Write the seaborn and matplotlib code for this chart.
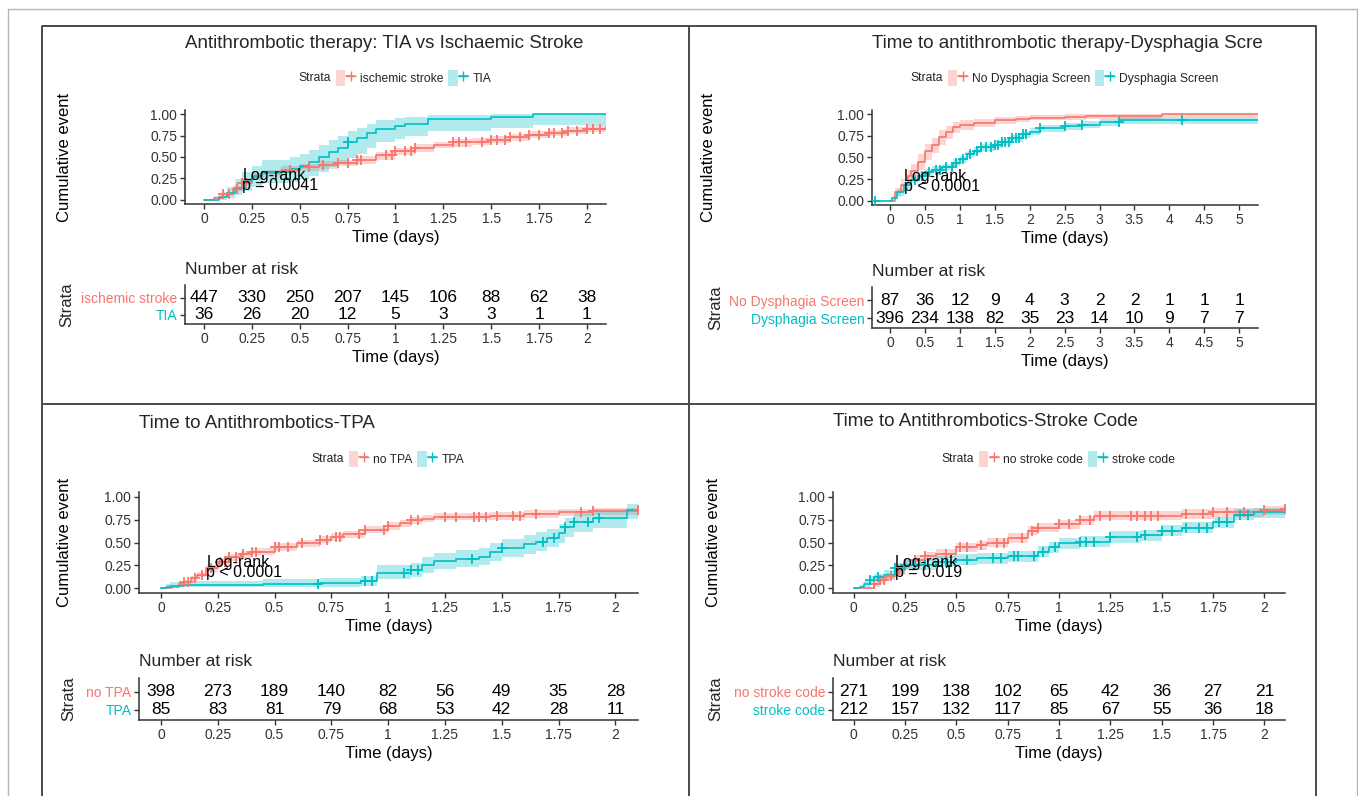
import numpy as np
import pandas as pd
import matplotlib
matplotlib.use("Agg")
import matplotlib.pyplot as plt
import seaborn as sns
from matplotlib.lines import Line2D
from matplotlib.patches import Patch
from matplotlib.legend_handler import HandlerTuple

W, H = 1358, 796
RED = "#F8766D"
TEAL = "#00BFC4"

# ---- panel 1: TIA vs ischaemic stroke ----
isch_t = [0, 0.05, 0.1, 0.15, 0.2, 0.25, 0.3, 0.4, 0.5, 0.6, 0.7, 0.8, 0.9, 1.0, 1.1, 1.2, 1.3, 1.4, 1.5, 1.6, 1.7, 1.8, 1.9, 2.0, 2.1]
isch_y = [0, 0.02, 0.07, 0.13, 0.2, 0.27, 0.31, 0.35, 0.38, 0.41, 0.43, 0.47, 0.52, 0.57, 0.61, 0.64, 0.67, 0.68, 0.70, 0.73, 0.76, 0.78, 0.81, 0.83, 0.85]
isch_lo = [0, 0.01, 0.05, 0.10, 0.16, 0.23, 0.27, 0.31, 0.34, 0.36, 0.39, 0.42, 0.47, 0.52, 0.56, 0.60, 0.62, 0.64, 0.66, 0.69, 0.72, 0.74, 0.77, 0.79, 0.81]
isch_hi = [0, 0.04, 0.09, 0.16, 0.24, 0.31, 0.35, 0.39, 0.42, 0.45, 0.47, 0.51, 0.56, 0.61, 0.65, 0.68, 0.71, 0.72, 0.74, 0.77, 0.80, 0.82, 0.85, 0.87, 0.89]
isch_cens = [0.1, 0.13, 0.17, 0.2, 0.22, 0.45, 0.55, 0.62, 0.7, 0.75, 0.8, 0.82, 0.95, 0.98, 1.0, 1.05, 1.08, 1.1,
             1.3, 1.33, 1.37, 1.45, 1.5, 1.53, 1.57, 1.6, 1.65, 1.7, 1.75, 1.8, 1.83, 1.87, 1.9, 1.95, 2.0, 2.03, 2.07]
tia_t = [0, 0.08, 0.12, 0.16, 0.2, 0.25, 0.3, 0.45, 0.5, 0.55, 0.6, 0.65, 0.7, 0.75, 0.8, 0.85, 0.9, 1.0, 1.05, 1.17, 1.5, 1.72, 2.1]
tia_y = [0, 0.03, 0.08, 0.14, 0.22, 0.28, 0.33, 0.36, 0.39, 0.44, 0.50, 0.56, 0.61, 0.67, 0.72, 0.78, 0.83, 0.86, 0.89, 0.94, 0.97, 1.0, 1.0]
tia_lo = [0, 0.0, 0.02, 0.05, 0.1, 0.15, 0.19, 0.21, 0.24, 0.28, 0.33, 0.38, 0.43, 0.49, 0.54, 0.61, 0.67, 0.71, 0.75, 0.80, 0.84, 0.88, 0.88]
tia_hi = [0, 0.08, 0.15, 0.24, 0.33, 0.40, 0.46, 0.50, 0.53, 0.58, 0.64, 0.70, 0.75, 0.80, 0.84, 0.89, 0.93, 0.96, 0.97, 0.99, 1.0, 1.0, 1.0]
tia_cens = [0.75]

# ---- panel 2: dysphagia screen ----
nodys_t = [0, 0.07, 0.15, 0.25, 0.3, 0.4, 0.5, 0.6, 0.7, 0.8, 0.9, 1.0, 1.2, 1.5, 1.8, 2.0, 2.5, 2.8, 3.9, 5.27]
nodys_y = [0, 0.1, 0.18, 0.28, 0.34, 0.45, 0.57, 0.64, 0.74, 0.80, 0.85, 0.88, 0.90, 0.93, 0.95, 0.96, 0.97, 0.98, 1.0, 1.0]
nodys_lo = [0, 0.05, 0.11, 0.2, 0.25, 0.36, 0.47, 0.55, 0.65, 0.72, 0.78, 0.82, 0.85, 0.89, 0.91, 0.93, 0.94, 0.95, 0.97, 0.97]
nodys_hi = [0, 0.15, 0.25, 0.36, 0.43, 0.54, 0.66, 0.73, 0.82, 0.87, 0.91, 0.93, 0.95, 0.97, 0.98, 0.99, 1.0, 1.0, 1.0, 1.0]
nodys_cens = []
dys_t = [-0.21, 0.03, 0.1, 0.2, 0.3, 0.4, 0.5, 0.6, 0.75, 0.9, 1.0, 1.1, 1.2, 1.3, 1.5, 1.6, 1.75, 1.9, 2.0, 2.15, 2.5, 2.75, 3.0, 3.3, 5.27]
dys_y = [0, 0.03, 0.1, 0.18, 0.24, 0.29, 0.33, 0.36, 0.39, 0.44, 0.48, 0.54, 0.58, 0.62, 0.65, 0.68, 0.72, 0.77, 0.80, 0.84, 0.86, 0.88, 0.91, 0.93, 0.93]
dys_lo = [0, 0.01, 0.06, 0.14, 0.2, 0.25, 0.29, 0.32, 0.35, 0.40, 0.44, 0.50, 0.54, 0.58, 0.61, 0.64, 0.68, 0.73, 0.76, 0.80, 0.82, 0.84, 0.87, 0.89, 0.89]
dys_hi = [0, 0.05, 0.14, 0.22, 0.28, 0.33, 0.37, 0.40, 0.43, 0.48, 0.52, 0.58, 0.62, 0.66, 0.69, 0.72, 0.76, 0.81, 0.84, 0.88, 0.90, 0.92, 0.95, 0.97, 0.97]
dys_cens = [-0.21, 0.35, 0.45, 0.55, 0.65, 0.72, 0.8, 0.88, 0.95, 1.05, 1.15, 1.25, 1.3, 1.38, 1.45, 1.5, 1.55, 1.6,
            1.65, 1.7, 1.75, 1.8, 1.85, 1.9, 1.95, 2.15, 2.5, 2.75, 3.28, 4.18]

# ---- panel 3: TPA ----
notpa_t = [0, 0.05, 0.08, 0.1, 0.13, 0.16, 0.2, 0.25, 0.3, 0.35, 0.4, 0.5, 0.6, 0.7, 0.75, 0.8, 0.9, 1.0, 1.05, 1.1, 1.15, 1.2, 1.45, 1.6, 1.75, 1.9, 2.1]
notpa_y = [0, 0.02, 0.05, 0.07, 0.11, 0.15, 0.22, 0.29, 0.34, 0.37, 0.40, 0.45, 0.49, 0.53, 0.56, 0.59, 0.64, 0.68, 0.71, 0.74, 0.76, 0.78, 0.79, 0.81, 0.83, 0.84, 0.85]
notpa_lo = [0, 0.01, 0.03, 0.05, 0.08, 0.12, 0.18, 0.25, 0.3, 0.33, 0.36, 0.41, 0.45, 0.49, 0.52, 0.55, 0.6, 0.64, 0.67, 0.70, 0.72, 0.74, 0.75, 0.77, 0.79, 0.80, 0.81]
notpa_hi = [0, 0.03, 0.07, 0.09, 0.14, 0.18, 0.26, 0.33, 0.38, 0.41, 0.44, 0.49, 0.53, 0.57, 0.60, 0.63, 0.68, 0.72, 0.75, 0.78, 0.80, 0.82, 0.83, 0.85, 0.87, 0.88, 0.89]
notpa_cens = [0.1, 0.12, 0.15, 0.18, 0.22, 0.26, 0.28, 0.3, 0.33, 0.36, 0.4, 0.42, 0.5, 0.52, 0.56, 0.62, 0.7, 0.73, 0.77,
              0.79, 0.87, 0.9, 0.98, 1.0, 1.1, 1.13, 1.25, 1.3, 1.38, 1.4, 1.43, 1.48, 1.55, 1.58, 1.65, 1.85, 1.9, 2.1]
tpa_t = [0, 0.02, 0.04, 0.1, 0.45, 0.7, 0.88, 0.95, 1.1, 1.15, 1.2, 1.3, 1.4, 1.45, 1.5, 1.6, 1.65, 1.7, 1.75, 1.78, 1.82, 1.9, 2.05, 2.1]
tpa_y = [0, 0.02, 0.03, 0.04, 0.05, 0.06, 0.08, 0.17, 0.20, 0.25, 0.30, 0.32, 0.34, 0.40, 0.44, 0.48, 0.51, 0.55, 0.60, 0.67, 0.72, 0.77, 0.85, 0.85]
tpa_lo = [0, 0.0, 0.01, 0.01, 0.01, 0.02, 0.03, 0.1, 0.12, 0.17, 0.21, 0.23, 0.25, 0.30, 0.34, 0.38, 0.41, 0.45, 0.50, 0.56, 0.61, 0.66, 0.76, 0.76]
tpa_hi = [0, 0.05, 0.07, 0.08, 0.10, 0.11, 0.14, 0.25, 0.28, 0.34, 0.39, 0.42, 0.44, 0.50, 0.54, 0.58, 0.61, 0.65, 0.70, 0.77, 0.82, 0.86, 0.92, 0.92]
tpa_cens = [0.69, 0.9, 0.93, 1.07, 1.1, 1.13, 1.37, 1.5, 1.68, 1.73, 1.78, 1.82, 1.88, 1.93]

# ---- panel 4: stroke code ----
nosc_t = [0, 0.1, 0.13, 0.16, 0.2, 0.25, 0.3, 0.35, 0.4, 0.5, 0.6, 0.65, 0.75, 0.85, 0.9, 1.0, 1.1, 1.17, 1.5, 1.6, 1.75, 2.0, 2.1]
nosc_y = [0, 0.05, 0.09, 0.13, 0.2, 0.26, 0.31, 0.35, 0.38, 0.45, 0.47, 0.50, 0.55, 0.63, 0.66, 0.70, 0.74, 0.79, 0.79, 0.81, 0.83, 0.85, 0.86]
nosc_lo = [0, 0.02, 0.05, 0.09, 0.15, 0.21, 0.26, 0.3, 0.33, 0.40, 0.42, 0.45, 0.50, 0.58, 0.61, 0.65, 0.69, 0.74, 0.74, 0.76, 0.78, 0.80, 0.81]
nosc_hi = [0, 0.08, 0.13, 0.17, 0.25, 0.31, 0.36, 0.40, 0.43, 0.50, 0.52, 0.55, 0.60, 0.68, 0.71, 0.75, 0.79, 0.84, 0.84, 0.86, 0.88, 0.90, 0.91]
nosc_cens = [0.1, 0.13, 0.15, 0.18, 0.22, 0.25, 0.3, 0.35, 0.45, 0.52, 0.55, 0.62, 0.7, 0.73, 0.82, 0.87, 0.9, 1.0, 1.05,
             1.1, 1.15, 1.2, 1.25, 1.35, 1.38, 1.42, 1.45, 1.48, 1.62, 1.7, 1.75, 1.82, 1.9, 2.0, 2.1]
sc_t = [0, 0.03, 0.05, 0.08, 0.1, 0.15, 0.2, 0.25, 0.4, 0.5, 0.6, 0.75, 0.9, 0.95, 1.0, 1.1, 1.25, 1.4, 1.5, 1.6, 1.75, 1.85, 1.95, 2.1]
sc_y = [0, 0.02, 0.05, 0.09, 0.12, 0.15, 0.22, 0.26, 0.29, 0.31, 0.33, 0.35, 0.40, 0.45, 0.49, 0.51, 0.56, 0.58, 0.63, 0.66, 0.72, 0.80, 0.83, 0.86]
sc_lo = [0, 0.0, 0.02, 0.05, 0.08, 0.10, 0.16, 0.2, 0.23, 0.25, 0.27, 0.29, 0.34, 0.39, 0.43, 0.45, 0.50, 0.52, 0.57, 0.60, 0.66, 0.74, 0.77, 0.81]
sc_hi = [0, 0.04, 0.08, 0.13, 0.16, 0.2, 0.28, 0.32, 0.35, 0.37, 0.39, 0.41, 0.46, 0.51, 0.55, 0.57, 0.62, 0.64, 0.69, 0.72, 0.78, 0.86, 0.88, 0.90]
sc_cens = [0.08, 0.12, 0.2, 0.25, 0.3, 0.35, 0.45, 0.55, 0.68, 0.72, 0.78, 0.8, 0.88, 0.92, 0.98, 1.1, 1.13, 1.17, 1.25,
           1.38, 1.42, 1.5, 1.55, 1.62, 1.68, 1.72, 1.78, 1.82, 1.88, 1.92]

# ---- number at risk ----
risk_times_2d = [0, 0.25, 0.5, 0.75, 1, 1.25, 1.5, 1.75, 2]
risk_labels_2d = ["0", "0.25", "0.5", "0.75", "1", "1.25", "1.5", "1.75", "2"]
risk_times_5d = [0, 0.5, 1, 1.5, 2, 2.5, 3, 3.5, 4, 4.5, 5]
risk_labels_5d = ["0", "0.5", "1", "1.5", "2", "2.5", "3", "3.5", "4", "4.5", "5"]
risk_isch = [447, 330, 250, 207, 145, 106, 88, 62, 38]
risk_tia = [36, 26, 20, 12, 5, 3, 3, 1, 1]
risk_nodys = [87, 36, 12, 9, 4, 3, 2, 2, 1, 1, 1]
risk_dys = [396, 234, 138, 82, 35, 23, 14, 10, 9, 7, 7]
risk_notpa = [398, 273, 189, 140, 82, 56, 49, 35, 28]
risk_tpa = [85, 83, 81, 79, 68, 53, 42, 28, 11]
risk_nosc = [271, 199, 138, 102, 65, 42, 36, 27, 21]
risk_sc = [212, 157, 132, 117, 85, 67, 55, 36, 18]

sns.set_theme(style="ticks")
plt.rcParams["font.family"] = ["Liberation Sans", "DejaVu Sans"]

fig = plt.figure(figsize=(W / 100, H / 100), dpi=100)


def px_axes(x0, y0, x1, y1):
    return fig.add_axes([x0 / W, 1 - y1 / H, (x1 - x0) / W, (y1 - y0) / H])


def fig_line(xs, ys, color, lw):
    fig.add_artist(Line2D([x / W for x in xs], [1 - y / H for y in ys],
                          transform=fig.transFigure, color=color, lw=lw))


def style_axis(ax):
    sns.despine(ax=ax)
    for s in ("left", "bottom"):
        ax.spines[s].set_color("#333333")
        ax.spines[s].set_linewidth(1.1)
    ax.tick_params(length=3.5, width=1, color="#333333", labelsize=10,
                   labelcolor="#333333", pad=2)


def draw_group(ax, t, y, lo, hi, cens, color):
    ax.fill_between(t, lo, hi, step="post", color=color, alpha=0.3, linewidth=0)
    df = pd.DataFrame({"t": t, "y": y})
    sns.lineplot(data=df, x="t", y="y", ax=ax, color=color, estimator=None,
                 sort=False, drawstyle="steps-post", linewidth=1.2)
    if cens:
        idx = np.searchsorted(t, cens, side="right") - 1
        sns.scatterplot(x=cens, y=np.asarray(y)[idx], ax=ax, marker="+",
                        color=color, s=55, linewidth=1.3, zorder=3)


panels = [
    dict(title="Antithrombotic therapy: TIA vs Ischaemic Stroke", names=["ischemic stroke", "TIA"],
         groups=[(isch_t, isch_y, isch_lo, isch_hi, isch_cens), (tia_t, tia_y, tia_lo, tia_hi, tia_cens)],
         risk=[risk_isch, risk_tia], rt=risk_times_2d, rl=risk_labels_2d, xlim=(-0.1, 2.1),
         pval="p = 0.0041", plot=(185, 110, 606, 204), table=(185, 285, 606, 324),
         title_y=43, leg_y=78, nar_y=269, ylab_x=72, strata_x=67),
    dict(title="Time to antithrombotic therapy-Dysphagia Scre", names=["No Dysphagia Screen", "Dysphagia Screen"],
         groups=[(nodys_t, nodys_y, nodys_lo, nodys_hi, nodys_cens), (dys_t, dys_y, dys_lo, dys_hi, dys_cens)],
         risk=[risk_nodys, risk_dys], rt=risk_times_5d, rl=risk_labels_5d, xlim=(-0.26, 5.27),
         pval="p < 0.0001", plot=(872, 110, 1258, 205), table=(872, 287, 1258, 328),
         title_y=43, leg_y=78, nar_y=271, ylab_x=716, strata_x=716),
    dict(title="Time to Antithrombotics-TPA", names=["no TPA", "TPA"],
         groups=[(notpa_t, notpa_y, notpa_lo, notpa_hi, notpa_cens), (tpa_t, tpa_y, tpa_lo, tpa_hi, tpa_cens)],
         risk=[risk_notpa, risk_tpa], rt=risk_times_2d, rl=risk_labels_2d, xlim=(-0.097, 2.1),
         pval="p < 0.0001", plot=(139, 492, 638, 593), table=(139, 678, 638, 720),
         title_y=423, leg_y=459, nar_y=661, ylab_x=72, strata_x=69),
    dict(title="Time to Antithrombotics-Stroke Code", names=["no stroke code", "stroke code"],
         groups=[(nosc_t, nosc_y, nosc_lo, nosc_hi, nosc_cens), (sc_t, sc_y, sc_lo, sc_hi, sc_cens)],
         risk=[risk_nosc, risk_sc], rt=risk_times_2d, rl=risk_labels_2d, xlim=(-0.1, 2.1),
         pval="p = 0.019", plot=(833, 492, 1285, 593), table=(833, 678, 1285, 720),
         title_y=422, leg_y=459, nar_y=661, ylab_x=721, strata_x=716),
]

colors = [RED, TEAL]
legends = []
for p in panels:
    x0, y0, x1, y1 = p["plot"]
    ax = px_axes(x0, y0, x1, y1)
    for g, c in zip(p["groups"], colors):
        draw_group(ax, *g, c)
    ax.set_xlim(*p["xlim"])
    ax.set_ylim(-0.05, 1.05)
    ax.set_yticks([0, 0.25, 0.5, 0.75, 1.0])
    ax.set_yticklabels(["0.00", "0.25", "0.50", "0.75", "1.00"])
    ax.set_xticks(p["rt"])
    ax.set_xticklabels(p["rl"])
    style_axis(ax)
    ax.set_xlabel("Time (days)", fontsize=12, color="black", labelpad=3)
    ax.set_ylabel("Cumulative event", fontsize=12, color="black")
    ax.yaxis.set_label_coords((p["ylab_x"] - x0) / (x1 - x0), 0.5)
    ax.text(0.2, 0.28, "Log-rank", fontsize=11.5, va="center", ha="left", color="black")
    ax.text(0.2, 0.17, p["pval"], fontsize=11.5, va="center", ha="left", color="black")
    fig.text(x0 / W, 1 - p["title_y"] / H, p["title"], fontsize=13.5, va="center", ha="left")

    # legend: "Strata" + two keys, centred over the plot
    handles = [(Patch(facecolor=c, alpha=0.3, edgecolor="none"),
                Line2D([], [], color=c, marker="+", markersize=7, lw=1.2)) for c in colors]
    leg = fig.legend(handles, p["names"], loc="center", ncol=2, frameon=False, fontsize=8.7,
                     bbox_to_anchor=((x0 + x1) / 2 / W, 1 - p["leg_y"] / H),
                     handlelength=1.6, handleheight=1.6, handletextpad=0.4, columnspacing=0.4,
                     borderpad=0.1, handler_map={tuple: HandlerTuple(ndivide=None)})
    strata = fig.text(0, 1 - p["leg_y"] / H, "Strata", fontsize=8.7, va="center", ha="left")
    legends.append((leg, strata, (x0 + x1) / 2, p["leg_y"]))

    # risk table
    tx0, ty0, tx1, ty1 = p["table"]
    tb = px_axes(tx0, ty0, tx1, ty1)
    tb.set_xlim(*p["xlim"])
    tb.set_ylim(0.45, 2.75)
    for row, vals in zip([2, 1], p["risk"]):
        for t, v in zip(p["rt"], vals):
            tb.text(t, row, str(v), fontsize=12.5, ha="center", va="center", color="black")
    tb.set_xticks(p["rt"])
    tb.set_xticklabels(p["rl"])
    tb.set_yticks([2, 1])
    tb.set_yticklabels(p["names"])
    style_axis(tb)
    for lab, c in zip(tb.get_yticklabels(), colors):
        lab.set_color(c)
    tb.set_xlabel("Time (days)", fontsize=12, color="black", labelpad=3)
    fig.text(p["strata_x"] / W, 1 - (ty0 + ty1) / 2 / H, "Strata", fontsize=12,
             rotation=90, va="center", ha="center")
    fig.text(tx0 / W, 1 - p["nar_y"] / H, "Number at risk", fontsize=12.5, va="center", ha="left")

fig.canvas.draw()
renderer = fig.canvas.get_renderer()
for leg, strata, cx, cy in legends:
    lw = leg.get_window_extent(renderer).width
    sw = strata.get_window_extent(renderer).width
    gap = 4
    start = cx - (sw + gap + lw) / 2
    strata.set_x(start / W)
    leg.set_bbox_to_anchor(((start + sw + gap + lw / 2) / W, 1 - cy / H), transform=fig.transFigure)

# panel frames
fig_line([8, 8, 1357, 1357], [800, 9, 9, 800], "#b5b5b5", 1.0)
fig_line([42, 42, 1316, 1316], [800, 26, 26, 800], "#4a4a4a", 1.4)
fig_line([689, 689], [26, 800], "#4a4a4a", 1.4)
fig_line([42, 1316], [404, 404], "#4a4a4a", 1.4)

fig.savefig("out.png", dpi=100)
